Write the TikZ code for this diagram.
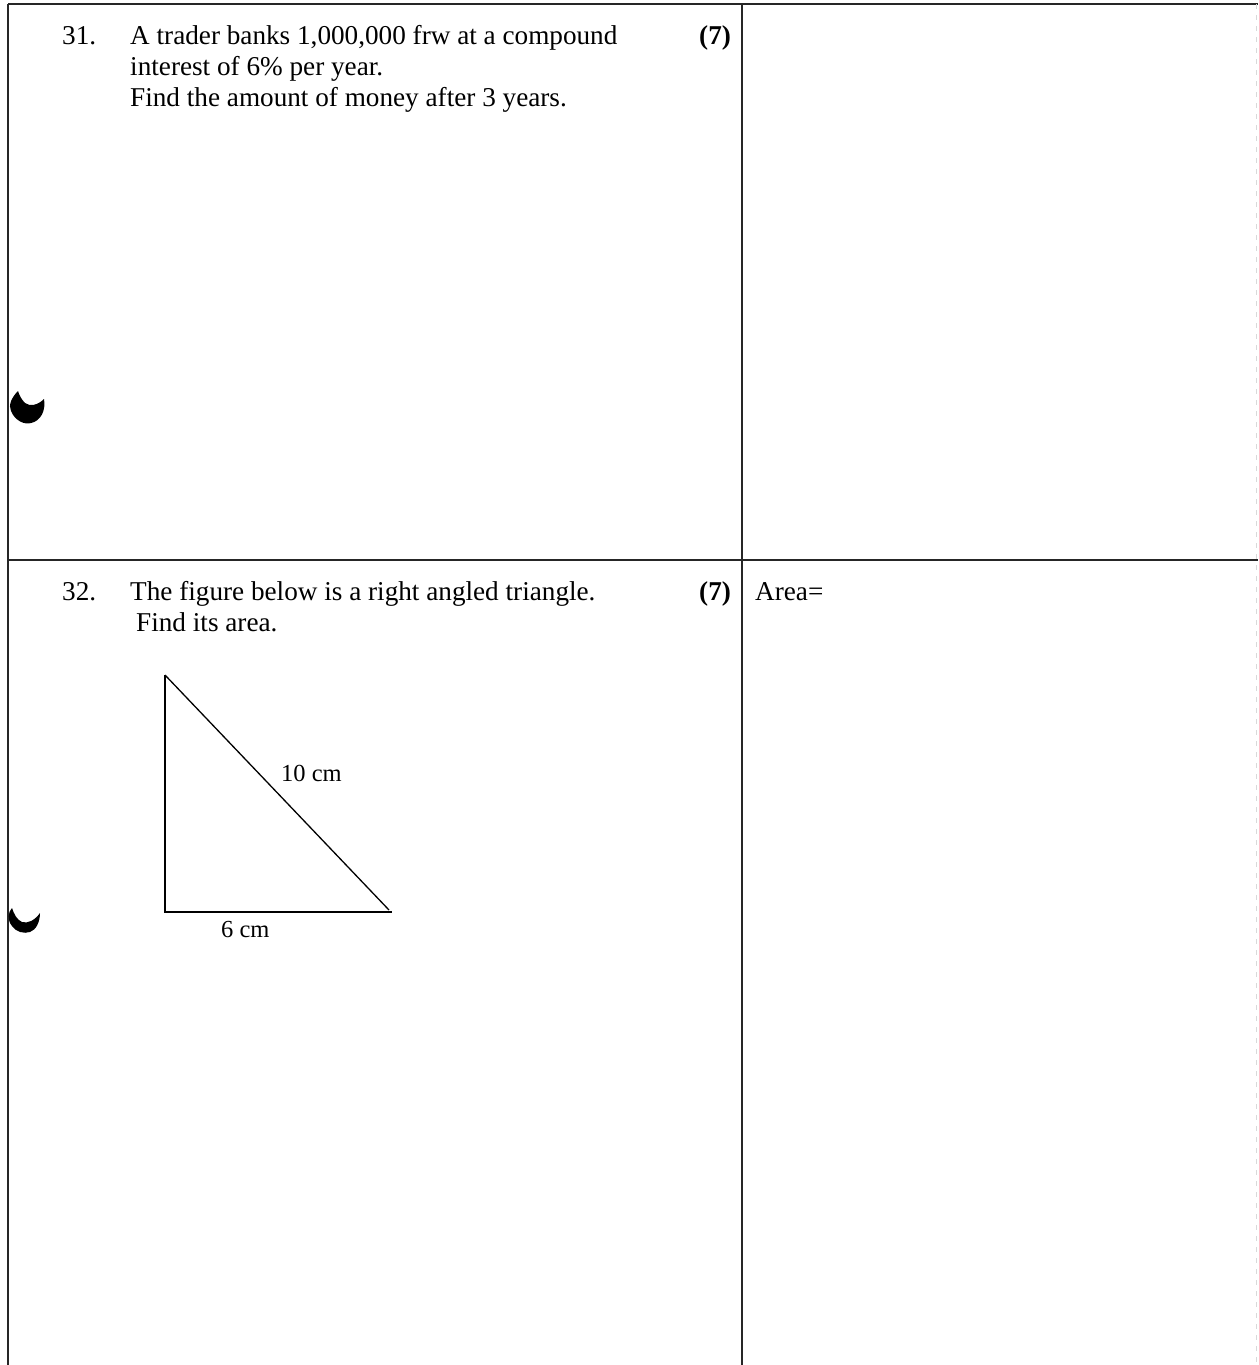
\documentclass[tikz,border=0pt]{standalone}
\usepackage{fontspec}
\setmainfont{Liberation Serif}
\begin{document}
\begin{tikzpicture}[x=1pt,y=-1pt,
  rule/.style={line width=1.6pt, black!85},
  faint/.style={line width=1pt, black!15, dash pattern=on 5pt off 6pt},
  txt/.style={anchor=base west, inner sep=0pt, font=\fontsize{27.2}{31.3}\selectfont},
  pts/.style={anchor=base west, inner sep=0pt, font=\fontsize{27.2}{31.3}\selectfont\bfseries},
  lab/.style={anchor=base west, inner sep=0pt, font=\fontsize{24.5}{28}\selectfont},
  tri/.style={line width=1.3pt, black}]
\useasboundingbox (0,0) rectangle (1258,1365);
\fill[white] (0,0) rectangle (1258,1365);
% table rules
\coordinate (TL) at (8,4);
\coordinate (TR) at (1258,4);
\coordinate (BL) at (8,1365);
\coordinate (TM) at (742,4);
\coordinate (BM) at (742,1365);
\coordinate (HL) at (8,560);
\coordinate (HR) at (1258,560);
\coordinate (RT) at (1256,4);
\coordinate (RB) at (1256,1365);
\draw[rule] (TL) -- (TR);
\draw[rule] (TL) -- (BL);
\draw[rule] (TM) -- (BM);
\draw[rule] (HL) -- (HR);
\draw[faint] (RT) -- (RB);
% question 31
\node[txt] (n31) at (62,44) {31.};
\node[txt] (q31a) at (130,44) {A trader banks 1,000,000 frw at a compound};
\node[txt] (q31b) at (130,75.3) {interest of 6\% per year.};
\node[txt] (q31c) at (130,106.6) {Find the amount of money after 3 years.};
\node[pts] (m31) at (699,44) {(7)};
% question 32
\node[txt] (n32) at (62,600) {32.};
\node[txt] (q32a) at (130,600) {The figure below is a right angled triangle.};
\node[txt] (q32b) at (136,631.3) {Find its area.};
\node[pts] (m32) at (699,600) {(7)};
\node[txt] (area) at (755,600) {Area=};
% triangle
\coordinate (A) at (165,675);
\coordinate (B) at (165,912);
\coordinate (C) at (392,912);
\draw[tri] (A) -- (B) -- (C);
\draw[tri] (A) -- (389,910);
\node[lab] (h) at (281,781) {10 cm};
\node[lab] (b) at (221,937) {6 cm};
% punch-hole blobs
\fill[black] (18,391) .. controls (12,397) and (8,405) .. (11,411)
  .. controls (15,421) and (25,425) .. (31,423)
  .. controls (41,421) and (46,410) .. (44,399)
  .. controls (38,405) and (30,407) .. (25,403)
  .. controls (22,400) and (19,395) .. (18,391) -- cycle;
\fill[black] (12,908) .. controls (8,912) and (7,920) .. (12,926)
  .. controls (16,932) and (24,934) .. (30,932)
  .. controls (36,930) and (40,922) .. (40,913)
  .. controls (35,920) and (28,924) .. (22,922)
  .. controls (17,920) and (14,914) .. (12,908) -- cycle;
\end{tikzpicture}
\end{document}
